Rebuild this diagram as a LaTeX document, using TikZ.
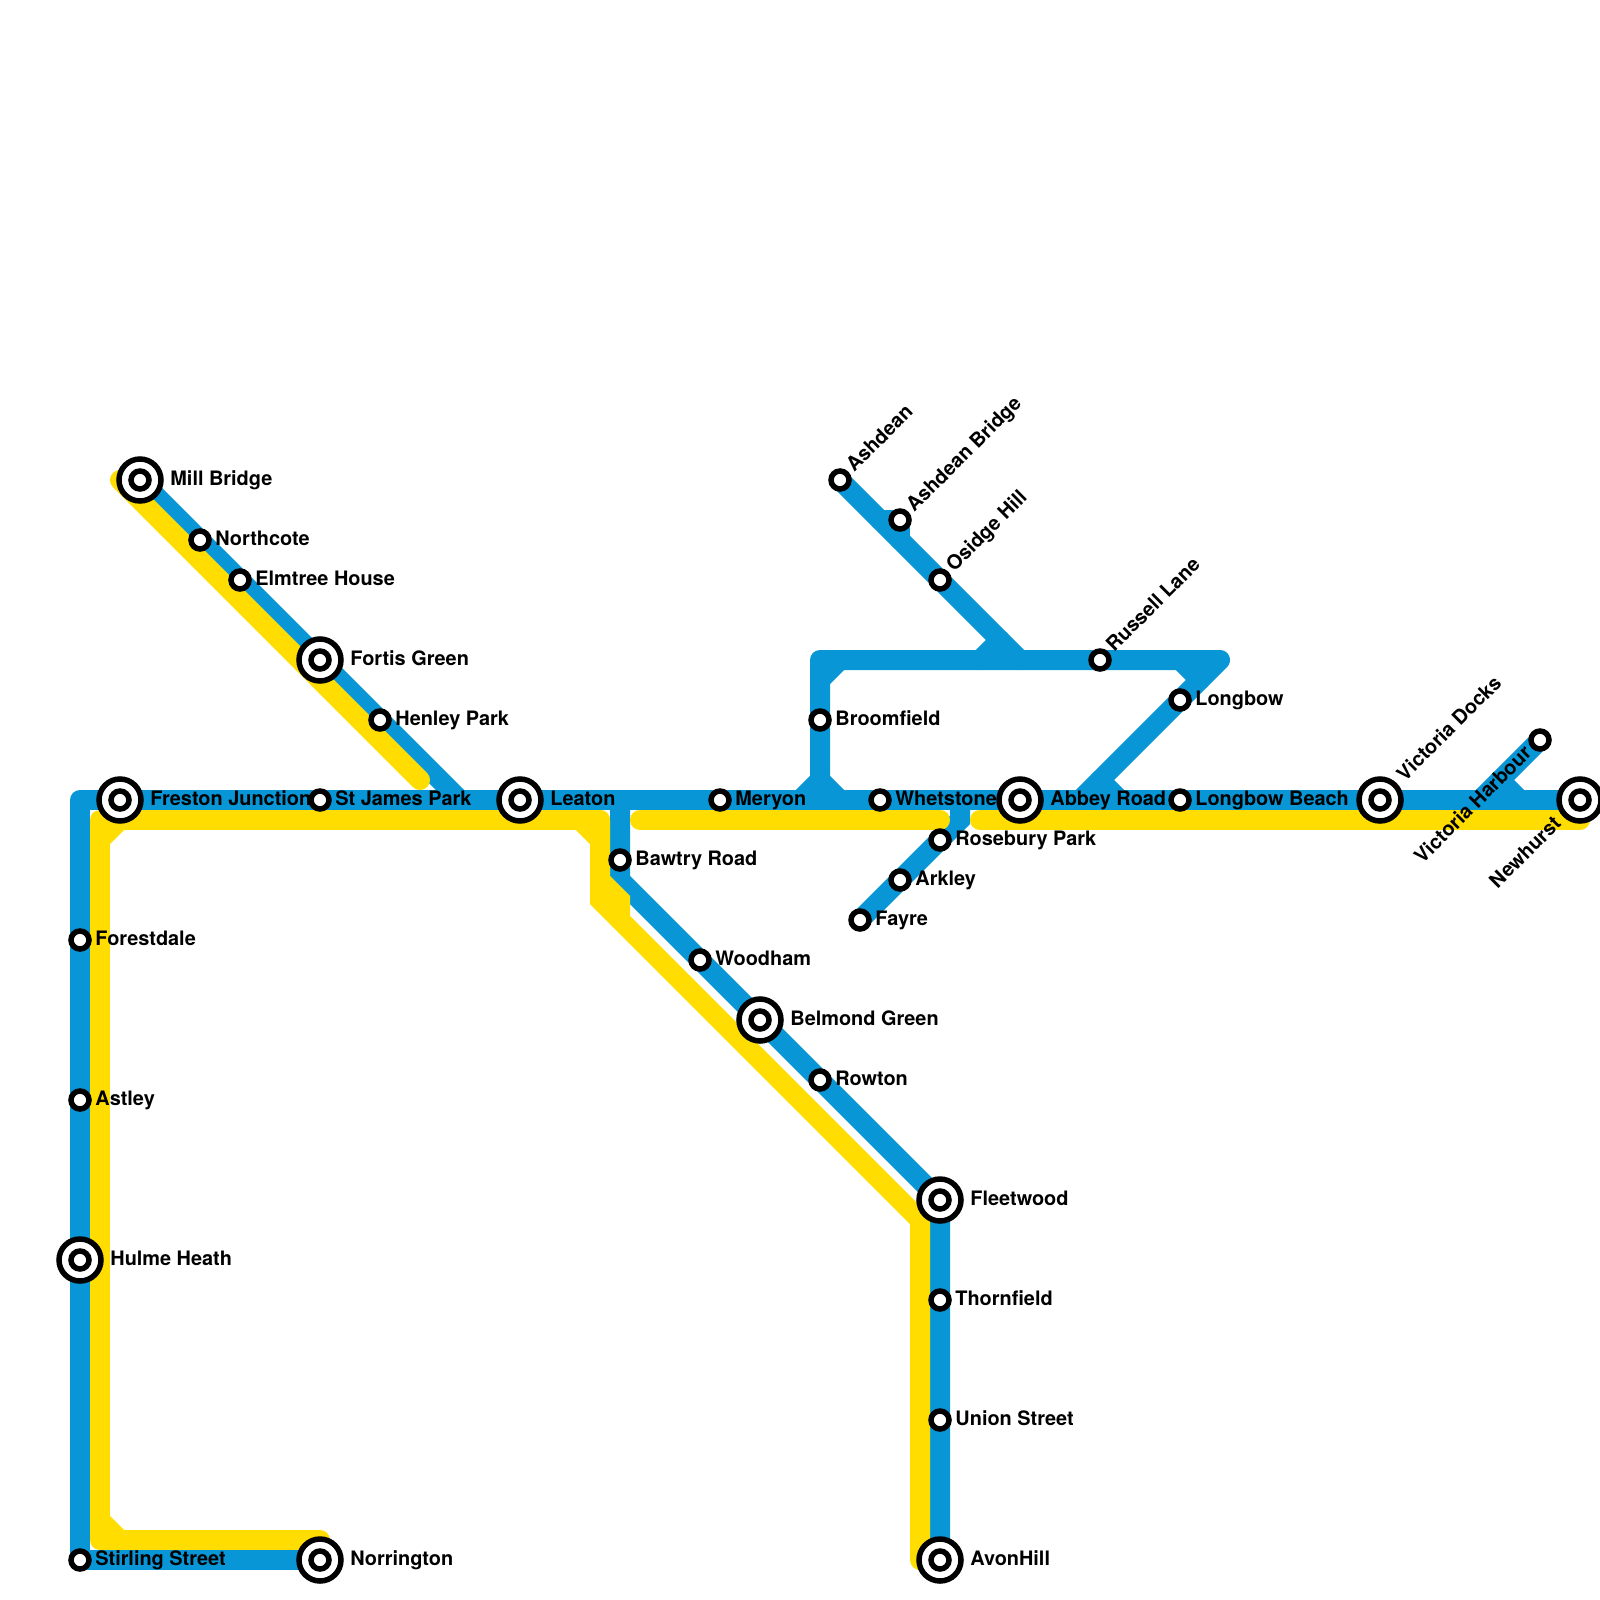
\documentclass[tikz,border=0pt]{standalone}
\usepackage{fontspec}
\setmainfont{TeX Gyre Heros}
\definecolor{lineblue}{HTML}{0896D7}
\definecolor{lineyellow}{HTML}{FFDD00}
\tikzset{
  x=0.5pt,y=-0.5pt,
  metro/.style={line width=10pt,line cap=round,line join=round},
  blueline/.style={metro,draw=lineblue},
  yellowline/.style={metro,draw=lineyellow},
  sharpjoin/.style={line join=miter},
  stsmall/.style={circle,draw=black,fill=white,line width=2.75pt,minimum size=9pt,inner sep=0pt},
  stbig/.style={circle,draw=black,fill=white,line width=2.75pt,minimum size=21pt,inner sep=0pt},
  labtext/.style={inner sep=0pt,font=\fontsize{9.95}{12}\selectfont\bfseries,text=black},
  labS/.style={labtext,anchor=base west,xshift=7.5pt,yshift=-2.5pt},
  labB/.style={labtext,anchor=base west,xshift=15pt,yshift=-2.5pt},
  labSNE/.style={labtext,anchor=base west,xshift=7.07pt,yshift=3.54pt,rotate=45},
  labBNE/.style={labtext,anchor=base west,xshift=12.37pt,yshift=8.84pt,rotate=45},
  labSSW/.style={labtext,anchor=base east,xshift=-3.54pt,yshift=-7.07pt,rotate=45},
  labBSW/.style={labtext,anchor=base east,xshift=-8.84pt,yshift=-12.37pt,rotate=45},
}
\newcommand{\smallstation}[3]{\node[stsmall] (n#1) at (#1) {};\node[#2] (l#1) at (#1) {#3};}
\newcommand{\bigstation}[3]{\node[stbig] (n#1) at (#1) {};\node[stsmall] (i#1) at (#1) {};\node[#2] (l#1) at (#1) {#3};}
\begin{document}
\begin{tikzpicture}
\useasboundingbox (0,0) rectangle (1600,1600);
% stations
\coordinate (mill) at (140,480);
\coordinate (northcote) at (200,540);
\coordinate (elmtree) at (240,580);
\coordinate (fortis) at (320,660);
\coordinate (henley) at (380,720);
\coordinate (freston) at (120,800);
\coordinate (stjames) at (320,800);
\coordinate (leaton) at (520,800);
\coordinate (meryon) at (720,800);
\coordinate (whetstone) at (880,800);
\coordinate (abbey) at (1020,800);
\coordinate (lbeach) at (1180,800);
\coordinate (vdocks) at (1380,800);
\coordinate (newhurst) at (1580,800);
\coordinate (vharbour) at (1540,740);
\coordinate (forestdale) at (80,940);
\coordinate (astley) at (80,1100);
\coordinate (hulme) at (80,1260);
\coordinate (stirling) at (80,1560);
\coordinate (norrington) at (320,1560);
\coordinate (bawtry) at (620,860);
\coordinate (woodham) at (700,960);
\coordinate (belmond) at (760,1020);
\coordinate (rowton) at (820,1080);
\coordinate (fleetwood) at (940,1200);
\coordinate (thornfield) at (940,1300);
\coordinate (union) at (940,1420);
\coordinate (avon) at (940,1560);
\coordinate (broomfield) at (820,720);
\coordinate (ashdean) at (840,480);
\coordinate (abridge) at (900,520);
\coordinate (osidge) at (940,580);
\coordinate (russell) at (1100,660);
\coordinate (longbow) at (1180,700);
\coordinate (rosebury) at (940,840);
\coordinate (arkley) at (900,880);
\coordinate (fayre) at (860,920);
% way points
\coordinate (bcorner) at (80,800);
\coordinate (bjoinA) at (460,800);
\coordinate (bjoinB) at (620,800);
\coordinate (bbend) at (620,880);
\coordinate (bjoinC) at (820,800);
\coordinate (btop) at (820,660);
\coordinate (btip) at (1220,660);
\coordinate (bjoinD) at (1080,800);
\coordinate (bjoinE) at (1020,660);
\coordinate (bstubA) at (880,520);
\coordinate (bstubB) at (900,540);
\coordinate (bjoinF) at (960,800);
\coordinate (bbendF) at (960,820);
\coordinate (bjoinG) at (1480,800);
% blue lines
\draw[blueline] (norrington) -- (stirling) -- (bcorner) -- (newhurst);
\draw[blueline] (mill) -- (bjoinA);
\draw[blueline] (bjoinB) -- (bbend) -- (fleetwood) -- (avon);
\draw[blueline] (bjoinC) -- (btop) -- (btip) -- (bjoinD);
\draw[blueline] (ashdean) -- (bjoinE);
\draw[blueline] (bstubA) -- (abridge) -- (bstubB);
\draw[blueline,sharpjoin] (bjoinF) -- (bbendF) -- (fayre);
\draw[blueline] (vharbour) -- (bjoinG);
% blue junction fillets
\draw[blueline] (800,800) -- (820,780);
\draw[blueline] (820,780) -- (840,800);
\draw[blueline] (820,680) -- (840,660);
\draw[blueline] (980,660) -- (1000,640);
\draw[blueline] (1180,660) -- (1200,680);
\draw[blueline] (1100,780) -- (1120,800);
\draw[blueline] (1500,780) -- (1520,800);
% yellow lines
\coordinate (yA) at (120,480);
\coordinate (yB) at (420,780);
\coordinate (yC) at (320,1540);
\coordinate (yD) at (100,1540);
\coordinate (yE) at (100,820);
\coordinate (yF) at (600,820);
\coordinate (yG) at (600,900);
\coordinate (yH) at (920,1220);
\coordinate (yI) at (920,1560);
\coordinate (yJ) at (640,820);
\coordinate (yK) at (940,820);
\coordinate (yL) at (980,820);
\coordinate (yM) at (1580,820);
\draw[yellowline] (yA) -- (yB);
\draw[yellowline] (yC) -- (yD) -- (yE) -- (yF);
\draw[yellowline,sharpjoin] (yF) -- (yG) -- (yH) -- (yI);
\draw[yellowline] (yJ) -- (yK);
\draw[yellowline] (yL) -- (yM);
% yellow junction fillets
\draw[yellowline] (100,840) -- (120,820);
\draw[yellowline] (100,1520) -- (120,1540);
\draw[yellowline] (580,820) -- (600,840);
\draw[yellowline,sharpjoin] (600,880) -- (620,900) -- (620,920);
% stations and labels
\bigstation{mill}{labB}{Mill Bridge}
\smallstation{northcote}{labS}{Northcote}
\smallstation{elmtree}{labS}{Elmtree House}
\bigstation{fortis}{labB}{Fortis Green}
\smallstation{henley}{labS}{Henley Park}
\bigstation{freston}{labB}{Freston Junction}
\smallstation{stjames}{labS}{St James Park}
\bigstation{leaton}{labB}{Leaton}
\smallstation{meryon}{labS}{Meryon}
\smallstation{whetstone}{labS}{Whetstone}
\bigstation{abbey}{labB}{Abbey Road}
\smallstation{lbeach}{labS}{Longbow Beach}
\bigstation{vdocks}{labBNE}{Victoria Docks}
\bigstation{newhurst}{labBSW}{Newhurst}
\smallstation{vharbour}{labSSW}{Victoria Harbour}
\smallstation{forestdale}{labS}{Forestdale}
\smallstation{astley}{labS}{Astley}
\bigstation{hulme}{labB}{Hulme Heath}
\smallstation{stirling}{labS}{Stirling Street}
\bigstation{norrington}{labB}{Norrington}
\smallstation{bawtry}{labS}{Bawtry Road}
\smallstation{woodham}{labS}{Woodham}
\bigstation{belmond}{labB}{Belmond Green}
\smallstation{rowton}{labS}{Rowton}
\bigstation{fleetwood}{labB}{Fleetwood}
\smallstation{thornfield}{labS}{Thornfield}
\smallstation{union}{labS}{Union Street}
\bigstation{avon}{labB}{AvonHill}
\smallstation{broomfield}{labS}{Broomfield}
\smallstation{ashdean}{labSNE}{Ashdean}
\smallstation{abridge}{labSNE}{Ashdean Bridge}
\smallstation{osidge}{labSNE}{Osidge Hill}
\smallstation{russell}{labSNE}{Russell Lane}
\smallstation{longbow}{labS}{Longbow}
\smallstation{rosebury}{labS}{Rosebury Park}
\smallstation{arkley}{labS}{Arkley}
\smallstation{fayre}{labS}{Fayre}
\end{tikzpicture}
\end{document}
